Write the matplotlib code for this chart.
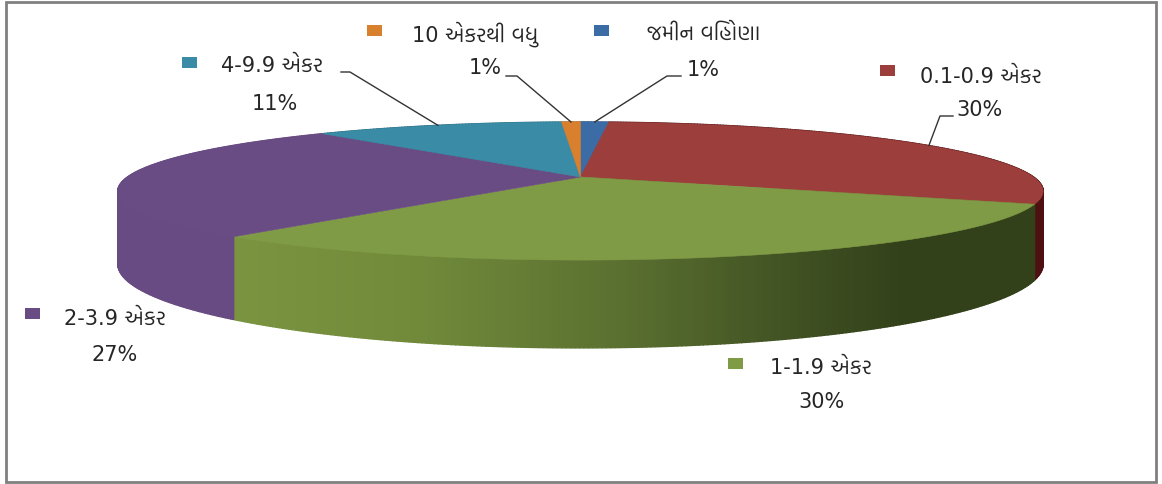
import numpy as np
import matplotlib
matplotlib.use('Agg')
import matplotlib.pyplot as plt
from matplotlib.patches import Polygon, Rectangle

plt.rcParams['font.family'] = ['DejaVu Sans', 'Hind Vadodara', 'FreeSerif']

# clockwise from 12 o'clock
names = ['જમીન વિહોણા', '0.1-0.9 એકર', '1-1.9 એકર', '2-3.9 એકર', '4-9.9 એકર', '10 એકરથી વધુ']
values = [1.2, 30, 30, 27.4, 10.6, 0.8]
pct_labels = ['1%', '30%', '30%', '27%', '11%', '1%']
top_colors = ['#3c6ca6', '#9c3f3c', '#7f9b45', '#6a4c84', '#3a8ca6', '#d9802e']
wall_colors = ['#2c5080', '#4e1010', None, '#684b82', '#2c6c80', '#a86020']

# pie geometry in image pixels
cx, cy = 580.5, 177
R = 453        # horizontal radius
H = 66.2       # vertical radius before perspective
p = 0.203      # perspective strength
D = 70         # thickness


def project(theta):
    s = 1 / (1 + p * np.cos(theta))
    return cx + R * np.sin(theta) * s, cy - H * np.cos(theta) * s, s


def green_wall(x):
    # dark towards the right
    stops = [230, 420, 620, 800, 900, 1040]
    r = np.interp(x, stops, [0x7a, 0x70, 0x5a, 0x3f, 0x33, 0x33])
    g = np.interp(x, stops, [0x94, 0x8a, 0x70, 0x50, 0x41, 0x41])
    b = np.interp(x, stops, [0x40, 0x3a, 0x30, 0x22, 0x1a, 0x1a])
    return (r / 255, g / 255, b / 255)


fig = plt.figure(figsize=(11.62, 4.84), dpi=100)
ax = fig.add_axes([0, 0, 1, 1])
ax.set_xlim(0, 1162)
ax.set_ylim(484, 0)
ax.axis('off')

# frame
ax.add_patch(Rectangle((5.5, 2), 1150, 480, fc='white', ec='#808080', lw=2, zorder=0))

edges = 2 * np.pi * np.concatenate([[0], np.cumsum(values)]) / sum(values)

# side walls, one thin strip at a time
for i in range(len(values)):
    th = np.linspace(edges[i], edges[i + 1], max(int(values[i] * 8), 4))
    for a, b in zip(th[:-1], th[1:]):
        xa, ya, sa = project(a)
        xb, yb, sb = project(b)
        c = wall_colors[i]
        if c is None:
            c = green_wall((xa + xb) / 2)
        ax.add_patch(Polygon([(xa, ya), (xb, yb), (xb, yb + D * sb), (xa, ya + D * sa)],
                             fc=c, ec=c, lw=1, zorder=2))

# top face
for i in range(len(values)):
    th = np.linspace(edges[i], edges[i + 1], max(int(values[i] * 8), 8))
    xs, ys, _ = project(th)
    pts = [(cx, cy)] + list(zip(xs, ys))
    ax.add_patch(Polygon(pts, fc=top_colors[i], ec=top_colors[i], lw=0.4, zorder=3))

# legend keys and labels: key box, name, percentage
name_pos = [(704, 34), (981, 77), (821, 368), (115, 319), (272, 66), (475, 34)]
key_pos = [(594, 25), (880, 65), (728, 358), (25, 308), (182, 57), (367, 25)]
pct_pos = [(703, 70), (980, 110), (821, 402), (115, 355), (275, 104), (485, 68)]
for i in range(len(values)):
    ax.add_patch(Rectangle(key_pos[i], 15, 11, fc=top_colors[i], ec='none', zorder=4))
    ax.text(name_pos[i][0], name_pos[i][1], names[i], fontsize=15, color='#262626',
            ha='center', va='center', zorder=5)
    ax.text(pct_pos[i][0], pct_pos[i][1], pct_labels[i], fontsize=15, color='#262626',
            ha='center', va='center', zorder=5)

# leader lines go to the middle of the slice
elbows = {0: [(681, 76), (667, 76)], 1: [(953, 116), (940, 116)],
          4: [(341, 72), (350, 72)], 5: [(506, 76), (517, 76)]}
for i, pts in elbows.items():
    mid = (edges[i] + edges[i + 1]) / 2
    ex, ey, _ = project(mid)
    xs = [pts[0][0], pts[1][0], ex]
    ys = [pts[0][1], pts[1][1], ey]
    ax.plot(xs, ys, color='#333333', lw=1, zorder=5)

fig.savefig('out.png', dpi=100)
